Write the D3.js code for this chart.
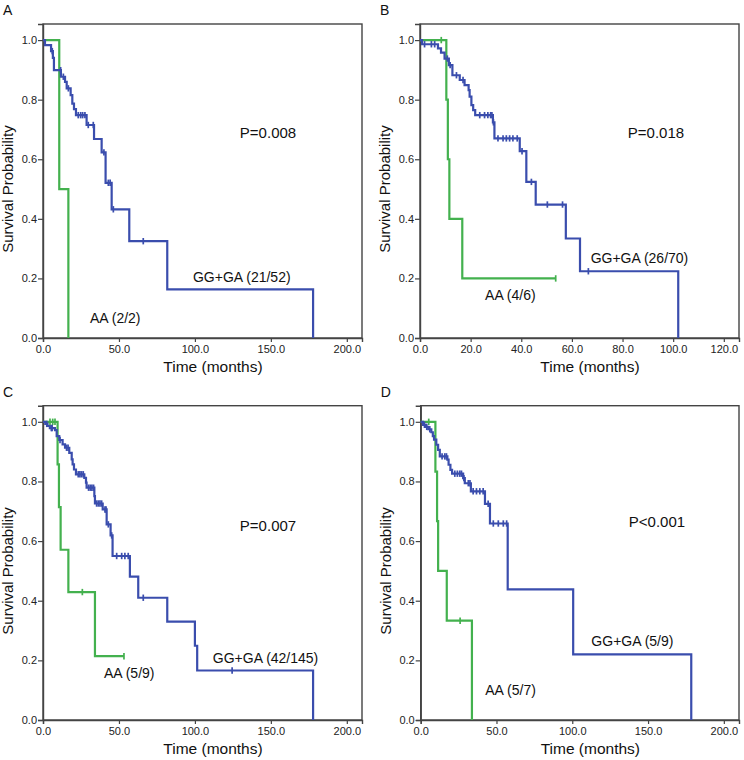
<!DOCTYPE html>
<html><head><meta charset="utf-8">
<script src="https://cdn.jsdelivr.net/npm/d3@7"></script>
<style>
html,body{margin:0;padding:0;background:#fff;}
text{font-family:Arial,"Liberation Sans",Helvetica,sans-serif;}
</style></head>
<body><svg id="c" width="744" height="760"></svg>
<script>
// ---------- DATA ----------
const panelLetters = ["A","B","C","D"];
const pValues = ["P=0.008","P=0.018","P=0.007","P<0.001"];
const blueLabels = ["GG+GA (21/52)","GG+GA (26/70)","GG+GA (42/145)","GG+GA (5/9)"];
const greenLabels = ["AA (2/2)","AA (4/6)","AA (5/9)","AA (5/7)"];
const xMaxTicks = [200,120,200,200];
const xTickStep = [50,20,50,50];
const yTicks = [0,0.2,0.4,0.6,0.8,1.0];

// Panel A
const aBlueT = [1.3,5.3,6.5,7.2,11.8,14.5,15.6,18.2,19.3,20.4,21.7,28.7,33.6,38.6,41.2,45.2,56.8,81.8,177.8];
const aBlueS = [0.983,0.963,0.94,0.899,0.877,0.86,0.838,0.815,0.787,0.768,0.748,0.715,0.668,0.623,0.521,0.432,0.325,0.163,0];
const aBlueC = [6.1,11.6,13.4,16.7,23.2,24.8,26.1,27.6,29.8,33.1,40.1,43.0,44.2,46.3,66.0];
const aGreenT = [10.7,16.7];
const aGreenS = [0.5,0];
const aGreenC = [];

// Panel B
const bBlueT = [0.8,7.1,8.3,9.7,11.4,12.8,15.7,17.6,19.2,19.6,20.3,21.0,21.8,28.8,29.4,39.4,42.0,45.7,57.6,63.2,102.0];
const bBlueS = [0.986,0.972,0.958,0.938,0.916,0.882,0.866,0.849,0.832,0.81,0.782,0.765,0.748,0.724,0.67,0.627,0.524,0.448,0.334,0.224,0];
const bBlueC = [1.8,4.5,5.8,10.8,11.9,14.4,17.0,23.6,25.5,26.8,27.9,28.4,29.0,30.8,32.8,34.1,35.4,36.7,38.4,40.3,44.0,50.3,56.3,66.5];
const bGreenT = [10.4,11.0,11.6,16.7];
const bGreenS = [0.8,0.6,0.4,0.2];
const bGreenC = [8.4,53.6];

// Panel C
const cBlueT = [1.5,3.0,4.5,7.9,9.0,10.7,12.9,14.5,17.3,18.9,19.5,20.4,21.7,27.2,28.3,28.7,33.8,34.2,39.3,41.9,44.5,45.8,57.2,62.7,81.8,100.0,101.5,177.8];
const cBlueS = [0.993,0.986,0.979,0.972,0.952,0.939,0.924,0.913,0.896,0.874,0.857,0.84,0.824,0.812,0.796,0.779,0.751,0.726,0.706,0.656,0.619,0.55,0.481,0.41,0.33,0.249,0.166,0];
const cBlueC = [2.5,5.5,6.0,11.2,15.5,16.5,23.2,24.3,25.4,26.5,30.0,31.1,32.2,33.3,35.3,36.4,37.5,38.6,40.8,41.5,43.0,45.2,48.5,51.8,53.9,56.1,66.0,124.5];
const cGreenT = [9.6,10.5,11.6,16.7,34.2];
const cGreenS = [0.857,0.714,0.571,0.429,0.214];
const cGreenC = [4.6,6.4,7.9,25.9,53.3];

// Panel D
const dBlueT = [1.5,3.0,5.0,7.0,8.0,8.8,10.3,11.5,12.6,17.6,18.4,19.6,20.7,28.0,29.1,33.1,42.4,45.7,57.4,100.6,178.5];
const dBlueS = [0.99,0.983,0.975,0.965,0.952,0.94,0.923,0.906,0.884,0.873,0.856,0.839,0.826,0.811,0.794,0.767,0.725,0.659,0.438,0.22,0];
const dBlueC = [2.5,4.0,6.0,14.1,15.9,17.0,22.5,24.2,25.8,26.9,28.5,31.4,32.5,34.6,36.8,39.0,41.2,44.5,47.9,51.2,54.5,56.7];
const dGreenT = [9.7,10.8,11.5,17.2,33.8];
const dGreenS = [0.833,0.667,0.5,0.333,0];
const dGreenC = [5.3,26.0];

const blueSeries = [[aBlueT,aBlueS,aBlueC],[bBlueT,bBlueS,bBlueC],[cBlueT,cBlueS,cBlueC],[dBlueT,dBlueS,dBlueC]];
const greenSeries = [[aGreenT,aGreenS,aGreenC],[bGreenT,bGreenS,bGreenC],[cGreenT,cGreenS,cGreenC],[dGreenT,dGreenS,dGreenC]];

// ---------- LAYOUT ----------
const layout = [
  {left:43, right:362, top:24, bottom:338, xMax:210, pPos:[129.6,0.67], bPos:[98.7,0.189], gPos:[30.9,0.05]},
  {left:420, right:739, top:24, bottom:338, xMax:126, pPos:[82.1,0.67], bPos:[67.4,0.253], gPos:[25.7,0.128]},
  {left:43, right:362, top:405.7, bottom:720, xMax:210, pPos:[129.6,0.634], bPos:[111.8,0.191], gPos:[40.1,0.142]},
  {left:420.7, right:739, top:405.7, bottom:720, xMax:210, pPos:[137.3,0.646], bPos:[112.6,0.249], gPos:[42.6,0.084]}
];
const BLUE = "#3a4dad", GREEN = "#43b14e", AXIS = "#444";

const svg = d3.select("#c");

function stepPoints(T,S,C){
  const pts=[[0,1]];
  T.forEach((t,i)=>pts.push([t,S[i]]));
  const lastT = T.length?T[T.length-1]:0;
  const lastC = C.length?C[C.length-1]:0;
  if (lastC>lastT) pts.push([lastC, S[S.length-1]]);
  return pts;
}
function survAt(T,S,t){
  let s=1;
  for(let i=0;i<T.length;i++){ if(T[i]<=t) s=S[i]; }
  return s;
}

layout.forEach((L,pi)=>{
  const g = svg.append("g");
  const x = d3.scaleLinear().domain([0,L.xMax]).range([L.left,L.right]);
  const y = d3.scaleLinear().domain([0,1.054]).range([L.bottom,L.top]);

  // frame
  g.append("rect").attr("x",L.left).attr("y",L.top).attr("width",L.right-L.left).attr("height",L.bottom-L.top)
    .attr("fill","none").attr("stroke",AXIS).attr("stroke-width",1.4);

  const xt = d3.range(0,xMaxTicks[pi]+0.001,xTickStep[pi]);
  const xa = g.append("g").attr("transform",`translate(0,${L.bottom})`)
    .call(d3.axisBottom(x).tickValues(xt).tickFormat(d3.format(".1f")).tickSize(4).tickPadding(3));
  const ya = g.append("g").attr("transform",`translate(${L.left},0)`)
    .call(d3.axisLeft(y).tickValues(yTicks).tickFormat(d3.format(".1f")).tickSize(5).tickPadding(1));
  [xa,ya].forEach(a=>{
    a.select(".domain").attr("stroke",AXIS).attr("stroke-width",1.4);
    a.selectAll(".tick line").attr("stroke",AXIS).attr("stroke-width",1.2);
    a.selectAll(".tick text").attr("fill","#222").style("font-size","11px");
  });

  // axis titles
  g.append("text").attr("x",(L.left+L.right)/2 + 10.5).attr("y",L.bottom+34)
    .attr("text-anchor","middle").style("font-size","15.5px").attr("fill","#111").text("Time (months)");
  const ymid = (y(0)+y(1))/2;
  g.append("text").attr("transform",`translate(${L.left-30},${ymid}) rotate(-90)`)
    .attr("text-anchor","middle").style("font-size","15px").attr("fill","#111").text("Survival Probability");

  // panel letter
  g.append("text").attr("x",L.left-40).attr("y",L.top-9).style("font-size","14px").attr("fill","#111").text(panelLetters[pi]);

  const line = d3.line().x(d=>x(d[0])).y(d=>y(d[1])).curve(d3.curveStepAfter);
  [[greenSeries[pi],GREEN],[blueSeries[pi],BLUE]].forEach(([ser,col])=>{
    const [T,S,C]=ser;
    g.append("path").datum(stepPoints(T,S,C)).attr("d",line)
      .attr("fill","none").attr("stroke",col).attr("stroke-width",2.2);
    g.selectAll(null).data(C).enter().append("line")
      .attr("x1",d=>x(d)).attr("x2",d=>x(d))
      .attr("y1",d=>y(survAt(T,S,d))-3.2).attr("y2",d=>y(survAt(T,S,d))+3.2)
      .attr("stroke",col).attr("stroke-width",1.7);
  });

  g.append("text").attr("x",x(L.pPos[0])).attr("y",y(L.pPos[1])).style("font-size","15px").attr("fill","#111").text(pValues[pi]);
  g.append("text").attr("x",x(L.bPos[0])).attr("y",y(L.bPos[1])).style("font-size","14px").attr("fill","#111").text(blueLabels[pi]);
  g.append("text").attr("x",x(L.gPos[0])).attr("y",y(L.gPos[1])).style("font-size","14px").attr("fill","#111").text(greenLabels[pi]);
});
</script></body></html>
